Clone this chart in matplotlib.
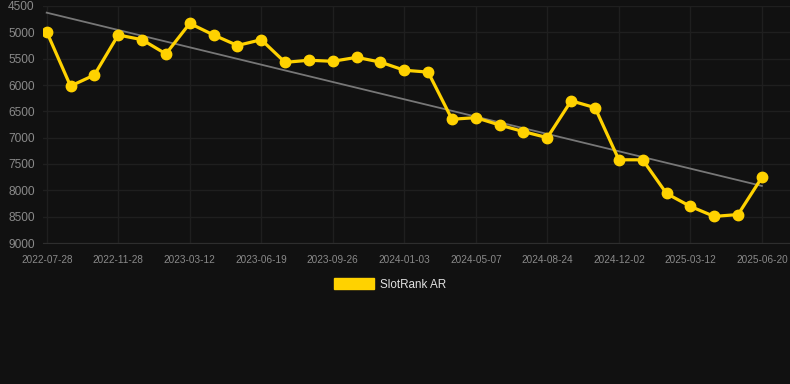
import numpy as np
import matplotlib.pyplot as plt
from matplotlib.patches import Patch

# rank values, one per period
ranks = [4990, 6020, 5810, 5050, 5140, 5410, 4830, 5050, 5250, 5140,
         5570, 5530, 5550, 5475, 5565, 5720, 5755, 6650, 6620, 6760,
         6885, 7000, 6300, 6430, 7420, 7420, 8060, 8305, 8495, 8460,
         7755]
tick_labels = ["2022-07-28", "2022-11-28", "2023-03-12", "2023-06-19",
               "2023-09-26", "2024-01-03", "2024-05-07", "2024-08-24",
               "2024-12-02", "2025-03-12", "2025-06-20"]
y_ticks = [4500, 5000, 5500, 6000, 6500, 7000, 7500, 8000, 8500, 9000]

bg = "#111111"
yellow = "#FFD200"

plt.rcParams['font.family'] = ['Liberation Sans', 'DejaVu Sans']

fig = plt.figure(figsize=(7.9, 3.84), dpi=100, facecolor=bg)
ax = fig.add_axes([43 / 790, 1 - 243 / 384, 1 - 43 / 790, 237 / 384])
ax.set_facecolor(bg)

x = np.arange(len(ranks))

# linear trend of the series
slope, icpt = np.polyfit(x, ranks, 1)
ax.plot(x, slope * x + icpt, color="#777777", linewidth=1.3, zorder=2)

ax.plot(x, ranks, "-o", color=yellow, linewidth=2.3, markersize=7.5, zorder=3)

ax.set_xlim(-0.155, 31.18)
ax.set_ylim(9000, 4500)
ax.set_yticks(y_ticks)
ax.set_xticks(x[::3])
ax.set_xticklabels(tick_labels)

ax.grid(True, color="#1f1f1f", linewidth=1.0)
ax.set_axisbelow(True)
for side in ["top", "right", "left"]:
    ax.spines[side].set_visible(False)
ax.spines["bottom"].set_color("#2e2e2e")

ax.tick_params(axis="y", length=0, pad=6, labelsize=8.6, labelcolor="#8a8a8a")
ax.tick_params(axis="x", length=0, pad=8.5, labelsize=7.2, labelcolor="#8a8a8a")

fig.legend(handles=[Patch(color=yellow)], labels=["SlotRank AR"],
           loc="center", bbox_to_anchor=(390 / 790, 1 - 284.5 / 384),
           frameon=False, fontsize=8.4, labelcolor="#e0e0e0",
           handlelength=3.4, handleheight=1.0, handletextpad=0.5)

fig.savefig("out.png", dpi=100, facecolor=bg)
